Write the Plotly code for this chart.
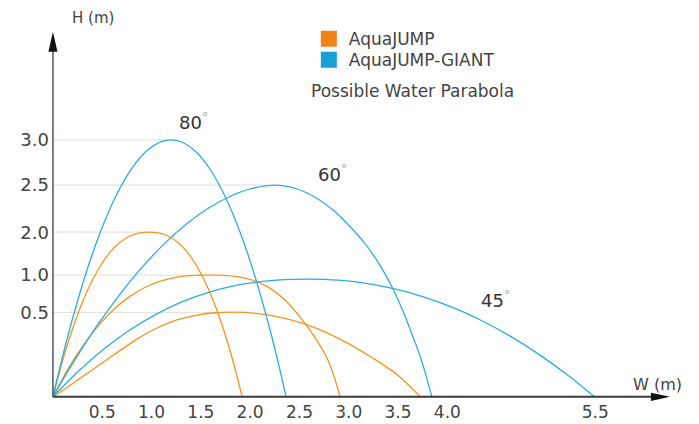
import plotly.graph_objects as go

# ---------------- data ----------------
# x: horizontal distance W (m); h: height on the chart's schematic H scale
aj80_x = [0, 0.098, 0.196, 0.294, 0.392, 0.490, 0.587, 0.685, 0.783, 0.881, 0.979,
          1.073, 1.167, 1.261, 1.355, 1.449, 1.543, 1.637, 1.731, 1.825, 1.919]
aj80_h = [0, 0.421, 0.784, 1.091, 1.343, 1.545, 1.699, 1.808, 1.878, 1.913, 1.922,
          1.913, 1.878, 1.808, 1.699, 1.545, 1.343, 1.091, 0.784, 0.421, 0]

aj60_x = [0, 0.155, 0.311, 0.466, 0.622, 0.777, 0.932, 1.088, 1.243, 1.399, 1.554,
          1.690, 1.826, 1.962, 2.098, 2.234, 2.369, 2.505, 2.641, 2.777, 2.845, 2.913]
aj60_h = [0, 0.329, 0.608, 0.838, 1.025, 1.170, 1.277, 1.351, 1.396, 1.416, 1.421,
          1.420, 1.410, 1.383, 1.330, 1.243, 1.114, 0.934, 0.720, 0.460, 0.260, 0]

aj45_x = [0, 0.150, 0.300, 0.450, 0.650, 0.850, 1.050, 1.250, 1.450, 1.650, 1.820,
          2.058, 2.297, 2.535, 2.774, 3.012, 3.250, 3.489, 3.727]
aj45_h = [0, 0.116, 0.236, 0.358, 0.516, 0.674, 0.801, 0.895, 0.952, 0.982, 0.989,
          0.975, 0.931, 0.857, 0.750, 0.612, 0.448, 0.261, 0]

giant80_x = [0, 0.100, 0.200, 0.350, 0.500, 0.650, 0.800, 0.950, 1.100, 1.199,
             1.300, 1.450, 1.600, 1.750, 1.900, 2.050, 2.200, 2.300, 2.365]
giant80_h = [0, 0.480, 0.917, 1.496, 1.980, 2.371, 2.668, 2.871, 2.980, 3.000,
             2.978, 2.861, 2.645, 2.330, 1.916, 1.402, 0.789, 0.325, 0]

giant60_x = [0, 0.113, 0.226, 0.451, 0.677, 0.903, 1.129, 1.354, 1.580, 1.806, 2.031, 2.257,
             2.400, 2.550, 2.700, 2.850, 3.000, 3.150, 3.300, 3.450, 3.550, 3.650, 3.720, 3.780, 3.842]
giant60_h = [0, 0.224, 0.438, 0.836, 1.194, 1.511, 1.786, 2.017, 2.205, 2.345, 2.436, 2.471,
             2.451, 2.394, 2.301, 2.172, 2.004, 1.811, 1.566, 1.256, 1.001, 0.705, 0.489, 0.266, 0]

giant45_x = [0, 0.260, 0.520, 0.780, 1.040, 1.301, 1.561, 1.821, 2.081, 2.341, 2.601,
             2.890, 3.179, 3.468, 3.757, 4.047, 4.336, 4.625, 4.914, 5.203, 5.348, 5.492]
giant45_h = [0, 0.301, 0.561, 0.780, 0.960, 1.105, 1.214, 1.293, 1.343, 1.368, 1.374,
             1.362, 1.325, 1.260, 1.168, 1.047, 0.897, 0.717, 0.508, 0.269, 0.138, 0]

x_tick_vals = [0.5, 1.0, 1.5, 2.0, 2.5, 3.0, 3.5, 4.0, 5.5]
x_tick_text = ["0.5", "1.0", "1.5", "2.0", "2.5", "3.0", "3.5", "4.0", "5.5"]
y_tick_vals = [0.985, 1.421, 1.922, 2.471, 3.0]
y_tick_text = ["0.5", "1.0", "2.0", "2.5", "3.0"]

series_names = ["AquaJUMP", "AquaJUMP-GIANT"]

# ---------------- styling ----------------
FONT = "DejaVu Sans"
curve_color = {"AquaJUMP": "#F7941D", "AquaJUMP-GIANT": "#2AACE2"}
legend_color = {"AquaJUMP": "#F28118", "AquaJUMP-GIANT": "#15A1D8"}
legend_ref = {"AquaJUMP": "legend", "AquaJUMP-GIANT": "legend2"}

curves = {
    ("AquaJUMP", "80"): (aj80_x, aj80_h),
    ("AquaJUMP", "60"): (aj60_x, aj60_h),
    ("AquaJUMP", "45"): (aj45_x, aj45_h),
    ("AquaJUMP-GIANT", "80"): (giant80_x, giant80_h),
    ("AquaJUMP-GIANT", "60"): (giant60_x, giant60_h),
    ("AquaJUMP-GIANT", "45"): (giant45_x, giant45_h),
}
# which curve's apex each horizontal guide line runs to
grid_to = [("AquaJUMP", "45"), ("AquaJUMP", "60"), ("AquaJUMP", "80"),
           ("AquaJUMP-GIANT", "60"), ("AquaJUMP-GIANT", "80")]

fig = go.Figure()

for tv, key in zip(y_tick_vals, grid_to):
    xs, hs = curves[key]
    peak_x = xs[hs.index(max(hs))]
    fig.add_trace(go.Scatter(x=[0, peak_x], y=[tv, tv], mode="lines",
                             line=dict(color="#E4E4E4", width=1.2),
                             hoverinfo="skip", showlegend=False))

for (name, ang), (xs, hs) in curves.items():
    fig.add_trace(go.Scatter(x=xs, y=hs, mode="lines",
                             line=dict(color=curve_color[name], width=1.3,
                                       shape="spline", smoothing=0.8),
                             name=f"{name} {ang}°", showlegend=False))

for name in series_names:
    fig.add_trace(go.Scatter(x=[None], y=[None], mode="markers", name=name,
                             legend=legend_ref[name],
                             marker=dict(symbol="square", size=16,
                                         color=legend_color[name])))

shapes = [
    dict(type="line", xref="x", yref="y", x0=0, y0=0, x1=6.08, y1=0,
         line=dict(color="#3a3a3a", width=2)),
    dict(type="line", xref="x", yref="y", x0=0, y0=0, x1=0, y1=4.05,
         line=dict(color="#555555", width=1.5)),
    dict(type="path", xref="x", yref="y",
         path="M 6.065,-0.047 L 6.258,0 L 6.065,0.047 Z",
         fillcolor="#111111", line=dict(width=0)),
    dict(type="path", xref="x", yref="y",
         path="M -0.046,4.027 L 0,4.261 L 0.046,4.027 Z",
         fillcolor="#111111", line=dict(width=0)),
]

deg = "<sup><span style='color:#aaaaaa'>°</span></sup>"
annotations = [
    dict(xref="paper", yref="paper", x=0.035, y=1.005, text="H (m)",
         xanchor="left", yanchor="middle", showarrow=False,
         font=dict(family=FONT, size=15, color="#444")),
    dict(x=5.86, y=0.14, text="W (m)", xanchor="left", yanchor="middle",
         showarrow=False, font=dict(family=FONT, size=16, color="#444")),
    dict(x=1.263, y=3.216, text="80" + deg, xanchor="left", yanchor="middle",
         showarrow=False, font=dict(family=FONT, size=18, color="#333")),
    dict(x=2.669, y=2.615, text="60" + deg, xanchor="left", yanchor="middle",
         showarrow=False, font=dict(family=FONT, size=18, color="#333")),
    dict(x=4.326, y=1.138, text="45" + deg, xanchor="left", yanchor="middle",
         showarrow=False, font=dict(family=FONT, size=18, color="#333")),
    dict(x=2.60, y=3.575, text="Possible Water Parabola", xanchor="left",
         yanchor="middle", showarrow=False,
         font=dict(family=FONT, size=17, color="#444")),
]

legend_style = dict(xanchor="left", yanchor="middle",
                    font=dict(family=FONT, size=17, color="#444"),
                    bgcolor="rgba(0,0,0,0)", itemsizing="trace")

# the page body adds an 8px offset, so the figure is 8px smaller on the left/top
fig.update_layout(
    width=691, height=416,
    margin=dict(l=40, r=24, t=12, b=22),
    paper_bgcolor="white", plot_bgcolor="white",
    font=dict(family=FONT, color="#444"),
    shapes=shapes, annotations=annotations,
    legend=dict(x=0.416, y=0.950, **legend_style),
    legend2=dict(x=0.416, y=0.895, **legend_style),
    xaxis=dict(range=[-0.05, 6.309], showgrid=False, zeroline=False, showline=False,
               automargin=False,
               tickmode="array", tickvals=x_tick_vals, ticktext=x_tick_text,
               ticks="", ticklabelstandoff=-2,
               tickfont=dict(family=FONT, size=17, color="#444")),
    yaxis=dict(range=[-0.06, 4.399], showgrid=False, zeroline=False, showline=False,
               automargin=False,
               tickmode="array", tickvals=y_tick_vals, ticktext=y_tick_text,
               ticks="", ticklabelstandoff=-2,
               tickfont=dict(family=FONT, size=18, color="#444")),
)

fig.write_html("out.html")
